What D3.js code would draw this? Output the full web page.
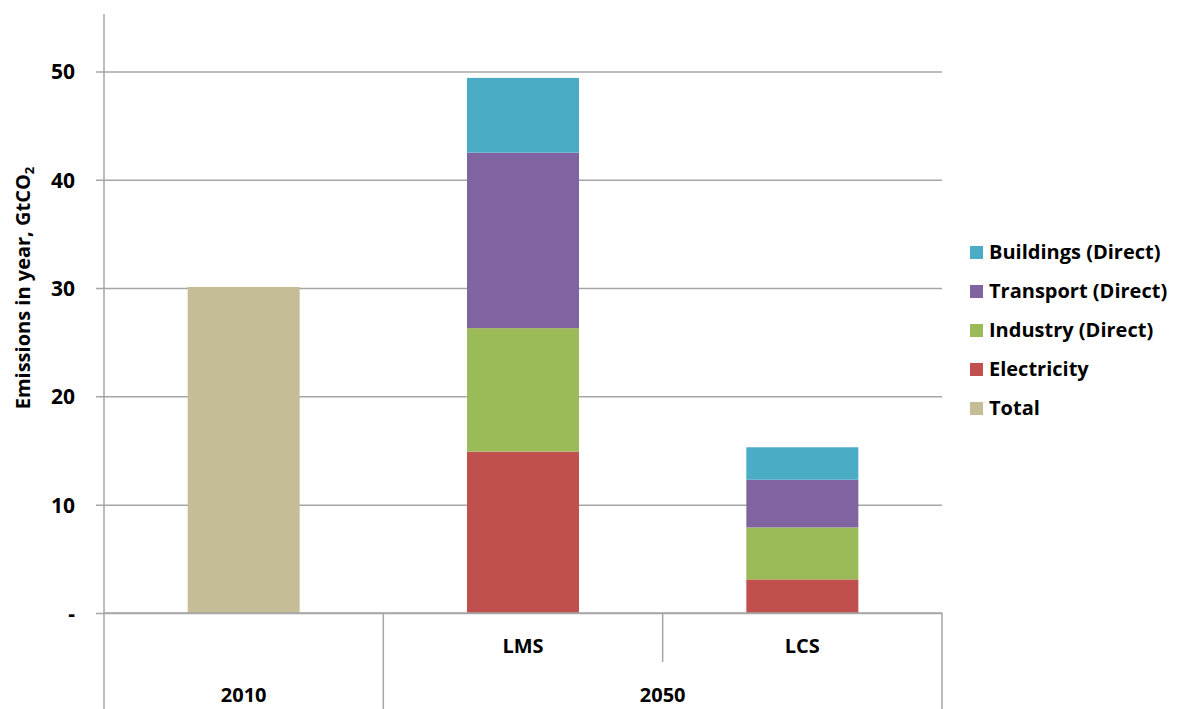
<!DOCTYPE html>
<html>
<head>
<meta charset="utf-8">
<script src="https://cdn.jsdelivr.net/npm/d3@7"></script>
<style>
  html, body { margin: 0; padding: 0; background: #fff; }
  svg { display: block; }
  text { font-family: "Open Sans", "Lato", sans-serif; font-weight: bold; fill: #000; }
</style>
</head>
<body>
<svg id="chart" width="1177" height="709"></svg>
<script>
// Bar categories (scenario) and their period groups
const categories = ["2010", "LMS", "LCS"];
const groups = [
  { label: "2010", members: ["2010"] },
  { label: "2050", members: ["LMS", "LCS"] }
];
const innerLabels = ["", "LMS", "LCS"];

// Series, in stacking order (bottom to top)
const seriesNames = ["Total", "Electricity", "Industry (Direct)", "Transport (Direct)", "Buildings (Direct)"];
const seriesColors = ["#C4BD97", "#C0504D", "#9BBB59", "#8064A2", "#4BACC6"];

// Emissions, GtCO2, per category
const total       = [30.1, 0, 0];
const electricity = [0, 14.9, 3.1];
const industry    = [0, 11.4, 4.8];
const transport   = [0, 16.2, 4.4];
const buildings   = [0, 6.9, 3.0];

const yTicks = [0, 10, 20, 30, 40, 50];
const yTickLabels = ["-", "10", "20", "30", "40", "50"];
const legendOrder = ["Buildings (Direct)", "Transport (Direct)", "Industry (Direct)", "Electricity", "Total"];

const seriesValues = [total, electricity, industry, transport, buildings];
const rows = categories.map((c, i) => {
  const r = { category: c };
  seriesNames.forEach((s, k) => { r[s] = seriesValues[k][i]; });
  return r;
});

const svg = d3.select("#chart");
const margin = { left: 104, right: 235, top: 14, plotBottom: 613 };
const plotRight = 1177 - margin.right;

const x = d3.scaleBand()
  .domain(categories)
  .range([margin.left, plotRight])
  .paddingInner(0)
  .paddingOuter(0);

const y = d3.scaleLinear()
  .domain([0, 55.3])
  .range([margin.plotBottom, margin.top]);

const gridColor = "#a6a6a6";

// Horizontal gridlines and tick marks
const yAxis = d3.axisLeft(y)
  .tickValues(yTicks)
  .tickSize(-(plotRight - margin.left))
  .tickSizeOuter(0)
  .tickFormat((d, i) => yTickLabels[i]);

const gy = svg.append("g")
  .attr("transform", `translate(${margin.left},0)`)
  .call(yAxis);
gy.select(".domain").remove();
gy.selectAll(".tick line")
  .attr("x1", -8)
  .attr("stroke", gridColor)
  .attr("stroke-width", 1.5);
gy.selectAll(".tick text")
  .attr("x", -29)
  .attr("dy", "0.35em")
  .style("font-size", "21px")
  .style("font-family", "'Open Sans', sans-serif")
  .style("font-weight", "bold")
  .attr("fill", "#000");

// Stacked bars
const stack = d3.stack().keys(seriesNames);
const stacked = stack(rows);
const barWidth = 112;

svg.append("g")
  .selectAll("g")
  .data(stacked)
  .join("g")
  .attr("fill", (d, i) => seriesColors[i])
  .selectAll("rect")
  .data(d => d.filter(p => p[1] - p[0] > 0))
  .join("rect")
  .attr("x", d => x(d.data.category) + x.bandwidth() / 2 - barWidth / 2)
  .attr("width", barWidth)
  .attr("y", d => y(d[1]))
  .attr("height", d => y(d[0]) - y(d[1]));

// Value axis line
svg.append("line")
  .attr("x1", margin.left).attr("x2", margin.left)
  .attr("y1", margin.top).attr("y2", 709)
  .attr("stroke", gridColor).attr("stroke-width", 1.5);

// Category axis: baseline, separators and two-level labels
const axisG = svg.append("g");
axisG.append("line")
  .attr("x1", margin.left).attr("x2", plotRight)
  .attr("y1", y(0)).attr("y2", y(0))
  .attr("stroke", gridColor).attr("stroke-width", 1.5);

// Separators between groups run the full depth; within a group they stop after the inner row
const bounds = categories.map(c => x(c)).concat([plotRight]);
bounds.forEach((bx, i) => {
  if (i === 0) return;
  const isGroupEdge = groups.some(g => x(g.members[0]) === bx) || i === bounds.length - 1;
  axisG.append("line")
    .attr("x1", bx).attr("x2", bx)
    .attr("y1", y(0)).attr("y2", isGroupEdge ? 709 : 662)
    .attr("stroke", gridColor).attr("stroke-width", 1.5);
});

axisG.selectAll("text.inner")
  .data(categories)
  .join("text")
  .attr("class", "inner")
  .attr("x", d => x(d) + x.bandwidth() / 2)
  .attr("y", 653)
  .attr("text-anchor", "middle")
  .style("font-size", "20px")
  .text((d, i) => innerLabels[i]);

axisG.selectAll("text.outer")
  .data(groups)
  .join("text")
  .attr("class", "outer")
  .attr("x", g => (x(g.members[0]) + x(g.members[g.members.length - 1]) + x.bandwidth()) / 2)
  .attr("y", 702)
  .attr("text-anchor", "middle")
  .style("font-size", "20px")
  .text(g => g.label);

// Value axis title
const title = svg.append("text")
  .attr("transform", `translate(30, ${y(0) - 325}) rotate(-90)`)
  .attr("text-anchor", "middle")
  .style("font-size", "20px");
title.append("tspan").text("Emissions  in year, GtCO");
title.append("tspan").attr("dy", 4).style("font-size", "13px").text("2");

// Legend
const colorOf = name => seriesColors[seriesNames.indexOf(name)];
const legend = svg.append("g").attr("transform", "translate(970, 252)");
const item = legend.selectAll("g")
  .data(legendOrder)
  .join("g")
  .attr("transform", (d, i) => `translate(0, ${i * 39})`);
item.append("rect")
  .attr("x", 0).attr("y", -6)
  .attr("width", 13).attr("height", 13)
  .attr("fill", d => colorOf(d));
item.append("text")
  .attr("x", 19)
  .attr("dy", "0.35em")
  .style("font-size", "20px")
  .text(d => d);
</script>
</body>
</html>
